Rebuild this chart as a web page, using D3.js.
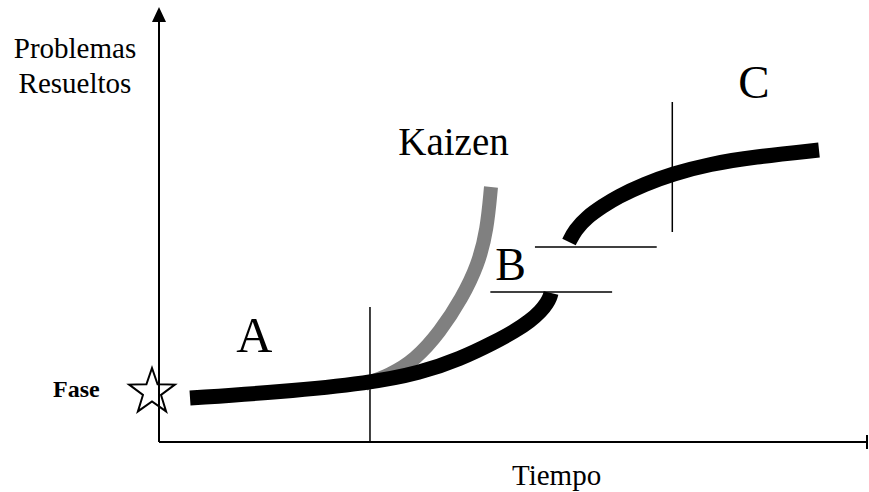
<!DOCTYPE html>
<html>
<head>
<meta charset="utf-8">
<script src="https://cdn.jsdelivr.net/npm/d3@7"></script>
<style>
    body { margin: 0; background: #fff; }
    text { font-family: "Liberation Serif", "Times New Roman", serif; fill: #000; }
</style>
</head>
<body>
<svg width="869" height="492"></svg>
<script>
// curve values in chart units: [tiempo, problemas resueltos]
var faseA = [[4.38, 11], [17.09, 12.5], [29.8, 14.75], [36.86, 17.25], [42.51, 20.75], [47.46, 25],
    [50.28, 27.75], [52.4, 30.25], [53.95, 32.75], [54.8, 34.75], [55.23, 36.25], [55.37, 37.25]];
var kaizen = [[29.1, 14.5], [32.63, 16.75], [36.16, 20.5], [39.69, 27.5], [42.8, 36], [45.06, 44.25],
    [46.33, 53], [46.89, 63.75]];
var faseC = [[57.91, 50], [58.76, 53], [60.45, 56.25], [62.71, 59], [64.69, 61.25], [68.64, 64.5],
    [72.46, 67], [77.82, 69.5], [83.9, 71.25], [93.22, 73]];

// phase boundaries: [x1, y1, x2, y2]
var boundaries = [
    [29.8, 0, 29.8, 33.75],
    [72.5, 52.5, 72.5, 85],
    [46.8, 37.5, 64, 37.5],
    [53.1, 48.75, 70.3, 48.75]
];
var phaseLabels = ['A', 'B', 'C', 'Kaizen'];

var svg = d3.select('svg');
var xScale = d3.scaleLinear().domain([0, 100]).range([159, 867]);
var yScale = d3.scaleLinear().domain([0, 100]).range([442, 42]);

var line = d3.line()
    .x(function(d) { return xScale(d[0]); })
    .y(function(d) { return yScale(d[1]); })
    .curve(d3.curveBasis);

/* Axes */
svg.append('line')
    .attr('x1', xScale(0)).attr('y1', yScale(0))
    .attr('x2', xScale(0)).attr('y2', 20)
    .style('stroke', '#000').style('stroke-width', 2);
svg.append('path')
    .attr('d', 'M' + xScale(0) + ',7 L' + (xScale(0) - 7) + ',22 L' + (xScale(0) + 7) + ',22 Z')
    .style('fill', '#000');
svg.append('line')
    .attr('x1', xScale(0)).attr('y1', yScale(0))
    .attr('x2', xScale(100)).attr('y2', yScale(0))
    .style('stroke', '#000').style('stroke-width', 2);
svg.append('line')
    .attr('x1', xScale(100)).attr('y1', yScale(0) - 7)
    .attr('x2', xScale(100)).attr('y2', yScale(0) + 7)
    .style('stroke', '#000').style('stroke-width', 2);

/* Phase boundaries */
svg.selectAll('line.bound')
    .data(boundaries)
    .join('line')
    .attr('class', 'bound')
    .attr('x1', function(d) { return xScale(d[0]); })
    .attr('y1', function(d) { return yScale(d[1]); })
    .attr('x2', function(d) { return xScale(d[2]); })
    .attr('y2', function(d) { return yScale(d[3]); })
    .style('stroke', '#000')
    .style('stroke-width', 1.5);

/* Curves */
svg.append('path')
    .attr('d', line(kaizen))
    .style('fill', 'none').style('stroke', '#808080').style('stroke-width', 14);
[faseA, faseC].forEach(function(c) {
    svg.append('path')
        .attr('d', line(c))
        .style('fill', 'none').style('stroke', '#000').style('stroke-width', 15);
});

/* Star */
var star = [];
for (var i = 0; i < 10; i++) {
    var r = i % 2 === 0 ? 24 : 9.5;
    var a = Math.PI * i / 5;
    star.push([152 + r * Math.sin(a), 392 - r * Math.cos(a)]);
}
svg.append('path')
    .attr('d', 'M' + star.join('L') + 'Z')
    .style('fill', 'none').style('stroke', '#000').style('stroke-width', 2);

/* Text */
svg.append('text').attr('x', 53).attr('y', 397)
    .style('font-size', '24px').style('font-weight', 'bold').text('Fase');
svg.append('text').attr('x', 75).attr('y', 58)
    .attr('text-anchor', 'middle').style('font-size', '29px').text('Problemas');
svg.append('text').attr('x', 75).attr('y', 93)
    .attr('text-anchor', 'middle').style('font-size', '29px').text('Resueltos');
svg.append('text').attr('x', 512).attr('y', 485)
    .style('font-size', '29px').text('Tiempo');

svg.append('text').attr('x', xScale(10.9)).attr('y', yScale(22.5))
    .style('font-size', '50px').text(phaseLabels[0]);
svg.append('text').attr('x', xScale(47.5)).attr('y', yScale(40.5))
    .style('font-size', '46px').text(phaseLabels[1]);
svg.append('text').attr('x', xScale(81.8)).attr('y', yScale(86))
    .style('font-size', '47px').text(phaseLabels[2]);
svg.append('text').attr('x', xScale(33.8)).attr('y', yScale(71.75))
    .style('font-size', '39px').text(phaseLabels[3]);
</script>
</body>
</html>
